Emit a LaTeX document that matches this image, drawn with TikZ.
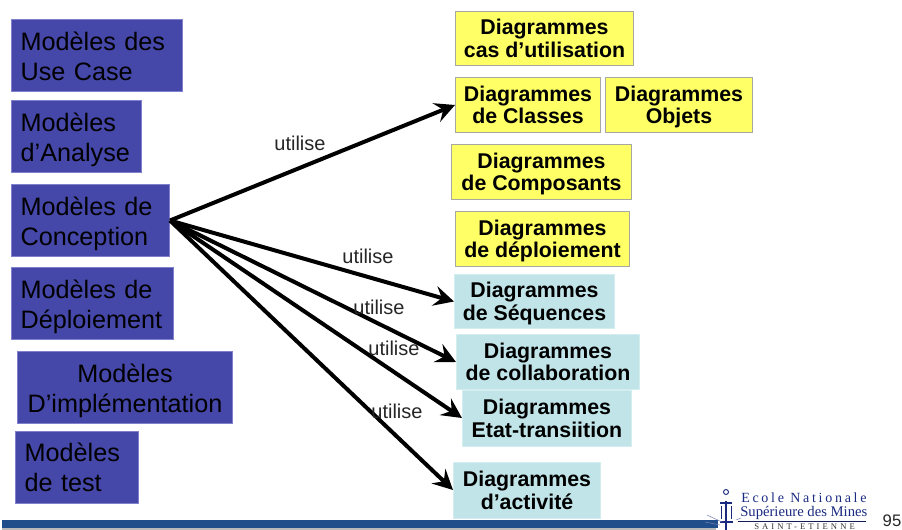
\documentclass[tikz,border=0pt]{standalone}
\usepackage{fontspec}
\setmainfont{Liberation Sans}
\newfontfamily\serifface{Liberation Serif}
\usetikzlibrary{arrows.meta}
\definecolor{bluebox}{HTML}{4547A9}
\definecolor{blueedge}{HTML}{8080CC}
\definecolor{yellowbox}{HTML}{FFFF66}
\definecolor{yellowedge}{HTML}{A8A8A0}
\definecolor{tealbox}{HTML}{C0E4E8}
\definecolor{tealedge}{HTML}{D4EEF0}
\definecolor{barblue}{HTML}{1F4E8A}
\definecolor{navy}{HTML}{1A2A80}
\tikzset{
  x=0.75pt,y=-0.75pt,
  modelbox/.style={draw=blueedge,line width=0.5pt,fill=bluebox,inner xsep=7pt,inner ysep=0pt,
    font=\fontsize{18.9pt}{22.5pt}\selectfont,text=black,anchor=center,text height=0pt,text depth=8.2pt},
  diagbox/.style={line width=0.5pt,inner xsep=0pt,inner ysep=0pt,align=center,
    font=\fontsize{16pt}{16.9pt}\selectfont\bfseries,text=black,anchor=center,text depth=0pt,text height=28.5pt},
  yellowdiag/.style={diagbox,draw=yellowedge,fill=yellowbox},
  tealdiag/.style={diagbox,draw=tealedge,fill=tealbox},
  usesarrow/.style={line width=3pt,-{Stealth[length=15pt,width=15pt,inset=5.5pt]},shorten <=0pt,shorten >=0pt},
  uselabel/.style={font=\fontsize{15pt}{18pt}\selectfont,text=black!85,inner sep=0pt},
}
\begin{document}
\begin{tikzpicture}
\useasboundingbox (0,0) rectangle (902,530);
% footer bar
\fill[gray!55] (2,527) rectangle (716,530);
\fill[barblue] (2,519.5) rectangle (718,527.5);
% left column
\node[modelbox,minimum width=128.5pt,minimum height=54.5pt,text width=114.5pt,align=left] (muc) at (97,55.5) {Modèles des\\Use Case};
\node[modelbox,minimum width=97.75pt,minimum height=54.5pt,text width=83.75pt,align=left] (man) at (76.5,136.5) {Modèles\\d’Analyse};
\node[modelbox,minimum width=118.75pt,minimum height=54.5pt,text width=104.75pt,align=left] (mco) at (90.5,220.5) {Modèles de\\Conception};
\node[modelbox,minimum width=121.75pt,minimum height=54.5pt,text width=107.75pt,align=left] (mde) at (92.5,303.5) {Modèles de\\Déploiement};
\node[modelbox,minimum width=161.5pt,minimum height=53.75pt,text width=147.5pt,align=center,text depth=6.7pt] (mim) at (125,387) {Modèles\\D’implémentation};
\node[modelbox,minimum width=92.5pt,minimum height=53.75pt,text width=78.5pt,align=left] (mte) at (77,467) {Modèles\\de test};
% right column
\node[yellowdiag,minimum width=133.75pt,minimum height=41pt] (dcu) at (544.5,38.5) {Diagrammes\\cas d’utilisation};
\node[yellowdiag,minimum width=109pt,minimum height=41.75pt] (dcl) at (528,105) {Diagrammes\\de Classes};
\node[yellowdiag,minimum width=110.5pt,minimum height=41.75pt] (dob) at (679,105) {Diagrammes\\Objets};
\node[yellowdiag,minimum width=135.25pt,minimum height=41.75pt] (dcp) at (541.5,172) {Diagrammes\\de Composants};
\node[yellowdiag,minimum width=130.75pt,minimum height=41.75pt] (ddp) at (542.5,239) {Diagrammes\\de déploiement};
\node[tealdiag,minimum width=120.25pt,minimum height=41pt] (dsq) at (534.5,301.5) {Diagrammes\\de Séquences};
\node[tealdiag,minimum width=137.5pt,minimum height=41.75pt] (dco) at (548,362) {Diagrammes\\de collaboration};
\node[tealdiag,minimum width=127pt,minimum height=41.75pt] (det) at (547,418) {Diagrammes\\Etat-transiition};
\node[tealdiag,minimum width=110.5pt,minimum height=41.75pt,text height=29pt] (dac) at (527,490) {Diagrammes\\d’activité};
% connectors
\draw[usesarrow] (mco.east) -- (dcl.west);
\draw[usesarrow] (mco.east) -- (dsq.west);
\draw[usesarrow] (mco.east) -- (dco.west);
\draw[usesarrow] (mco.east) -- (det.west);
\draw[usesarrow] (mco.east) -- (dac.west);
% labels
\node[uselabel] (l1) at (300,143) {utilise};
\node[uselabel] (l2) at (368,256) {utilise};
\node[uselabel] (l3) at (379,307) {utilise};
\node[uselabel] (l4) at (394,348.5) {utilise};
\node[uselabel] (l5) at (397,411) {utilise};
% logo
\begin{scope}
\clip (700,480) rectangle (902,530);
\draw[navy,line width=1pt] (726,501) -- (726,530);
\draw[navy,line width=1pt] (720,503) -- (732,503);
\draw[navy,line width=0.7pt] (726,492) circle (2.5);
\draw[navy,line width=0.6pt] (721,506) -- (721,519) (731,506) -- (731,519);
\draw[navy,line width=1.5pt] (720,522) -- (733,522);
\draw[navy!60,line width=0.4pt] (707,515) -- (722,522) (705,522) -- (720,525) (736,520) -- (741,518);
\draw[navy!70!black,line width=0.5pt] (738,521) -- (866,521);
\end{scope}
\node[anchor=west,inner sep=0pt,text=navy,font=\fontsize{10.5pt}{12pt}\serifface\addfontfeature{LetterSpace=19.5}] (lg1) at (741,498) {Ecole Nationale};
\node[anchor=west,inner sep=0pt,text=navy,font=\fontsize{11pt}{12pt}\serifface] (lg2) at (740,512.5) {Supérieure des Mines};
\begin{scope}
\clip (700,480) rectangle (902,530);
\node[anchor=west,inner sep=0pt,text=black!80,font=\fontsize{6.5pt}{8pt}\serifface\addfontfeature{LetterSpace=35}] (lg3) at (754,527) {SAINT-ETIENNE};
\end{scope}
\node[inner sep=0pt,font=\fontsize{12.5pt}{14pt}\selectfont,text=black!85] (pg) at (892,521) {95};
\end{tikzpicture}
\end{document}
